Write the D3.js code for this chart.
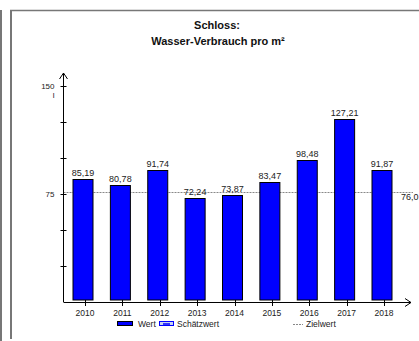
<!DOCTYPE html>
<html><head><meta charset="utf-8">
<script src="https://cdn.jsdelivr.net/npm/d3@7"></script>
<style>
html,body{margin:0;padding:0;background:#fff;}
svg{display:block;font-family:"Liberation Sans",Arial,sans-serif;}
</style></head>
<body><svg id="c" width="419" height="341"></svg>
<script>
const titleLines = ["Schloss:", "Wasser-Verbrauch pro m²"];
const years = ["2010","2011","2012","2013","2014","2015","2016","2017","2018"];
const values = [85.19, 80.78, 91.74, 72.24, 73.87, 83.47, 98.48, 127.21, 91.87];
const targetValue = 76.0;
const yTickValues = [0, 25, 50, 75, 100, 125, 150];
const yTickLabels = {75: "75", 150: "150"};
const unitLabel = "l";
const legendItems = ["Wert", "Schätzwert", "Zielwert"];

const fmt = v => d3.format(".2f")(v).replace(".", ",");
const fmt1 = v => d3.format(".1f")(v).replace(".", ",");

const svg = d3.select("#c");

// frames
svg.append("line").attr("x1",1).attr("x2",1).attr("y1",10).attr("y2",341).attr("stroke","#777").attr("stroke-width",2);
svg.append("line").attr("x1",11).attr("x2",11).attr("y1",10).attr("y2",339).attr("stroke","#777").attr("stroke-width",2);
svg.append("line").attr("x1",10).attr("x2",419).attr("y1",10.5).attr("y2",10.5).attr("stroke","#777").attr("stroke-width",1.5);

// title
svg.append("text").attr("x",217).attr("y",29).attr("text-anchor","middle")
  .attr("font-size",11).attr("font-weight","bold").attr("fill","#111").text(titleLines[0]);
svg.append("text").attr("x",218).attr("y",45).attr("text-anchor","middle")
  .attr("font-size",11).attr("font-weight","bold").attr("fill","#111").text(titleLines[1]);

const x = d3.scalePoint().domain(years).range([85, 384]);
const y = d3.scaleLinear().domain([0,150]).range([301.5, 86]);
const axisX = 63.5, axisY = 302;

// target line
svg.append("line").attr("x1",axisX).attr("x2",413).attr("y1",Math.round(y(targetValue))+0.5).attr("y2",Math.round(y(targetValue))+0.5)
  .attr("stroke","#888").attr("stroke-width",1).attr("stroke-dasharray","2,1");
svg.append("text").attr("x",401).attr("y",y(targetValue)+8).attr("font-size",9).attr("fill","#222").text(fmt1(targetValue));

// bars
const bw = 20;
svg.selectAll("rect.bar").data(values).join("rect").attr("class","bar")
  .attr("x",(d,i)=>x(years[i]) - 2.5 - bw/2 + 0.5)
  .attr("y",d=>Math.round(y(d))+0.5)
  .attr("width",bw)
  .attr("height",d=>(y(0)-2) - Math.round(y(d)))
  .attr("fill","#0000ff").attr("stroke","#000").attr("stroke-width",1);

svg.selectAll("text.val").data(values).join("text").attr("class","val")
  .attr("x",(d,i)=>x(years[i]) - 2)
  .attr("y",d=>y(d)-3)
  .attr("text-anchor","middle").attr("font-size",9).attr("fill","#222").text(d=>fmt(d));

// y axis
svg.append("line").attr("x1",axisX).attr("x2",axisX).attr("y1",73).attr("y2",axisY).attr("stroke","#000").attr("stroke-width",1);
svg.append("path").attr("d",`M${axisX-4},${79}L${axisX},${73}L${axisX+4},${79}`).attr("fill","none").attr("stroke","#000");
svg.selectAll("line.yt").data(yTickValues.filter(v=>v>0)).join("line").attr("class","yt")
  .attr("x1",axisX-3).attr("x2",axisX+3).attr("y1",d=>Math.round(y(d))+0.5).attr("y2",d=>Math.round(y(d))+0.5)
  .attr("stroke","#000");
svg.selectAll("text.yl").data(yTickValues.filter(v=>yTickLabels[v])).join("text").attr("class","yl")
  .attr("x",axisX-9).attr("y",d=>y(d)+3).attr("text-anchor","end").attr("font-size",8).attr("fill","#222")
  .text(d=>yTickLabels[d]);
svg.append("text").attr("x",axisX-9).attr("y",y(150)+12).attr("text-anchor","end").attr("font-size",8).attr("fill","#222").text(unitLabel);

// x axis
svg.append("line").attr("x1",axisX).attr("x2",411).attr("y1",axisY+0.5).attr("y2",axisY+0.5).attr("stroke","#000");
svg.append("path").attr("d",`M405,${axisY-3.5}L411,${axisY+0.5}L405,${axisY+4.5}`).attr("fill","none").attr("stroke","#000");
svg.selectAll("line.xt").data(years).join("line").attr("class","xt")
  .attr("x1",d=>Math.round(x(d))+0.5).attr("x2",d=>Math.round(x(d))+0.5).attr("y1",axisY-2).attr("y2",axisY+4)
  .attr("stroke","#000");
svg.selectAll("text.xl").data(years).join("text").attr("class","xl")
  .attr("x",d=>x(d)).attr("y",axisY+14).attr("text-anchor","middle").attr("font-size",8.5).attr("fill","#222").text(d=>d);

// legend
const ly = 324;
svg.append("rect").attr("x",117.5).attr("y",ly-2.5).attr("width",15).attr("height",4).attr("fill","#0000ff").attr("stroke","#000");
svg.append("text").attr("x",138).attr("y",ly+3).attr("font-size",8.5).attr("fill","#222").text(legendItems[0]);
svg.append("rect").attr("x",159.5).attr("y",ly-2.5).attr("width",14).attr("height",4).attr("fill","#c8d4f0").attr("stroke","#0000ff");
svg.append("line").attr("x1",163).attr("x2",170).attr("y1",ly).attr("y2",ly).attr("stroke","#0000ff").attr("stroke-width",1.5);
svg.append("text").attr("x",177).attr("y",ly+3).attr("font-size",8.5).attr("fill","#222").text(legendItems[1]);
svg.append("line").attr("x1",293).attr("x2",303).attr("y1",ly+0.5).attr("y2",ly+0.5).attr("stroke","#888").attr("stroke-dasharray","2,1");
svg.append("text").attr("x",306).attr("y",ly+3).attr("font-size",8.5).attr("fill","#222").text(legendItems[2]);
</script></body></html>
